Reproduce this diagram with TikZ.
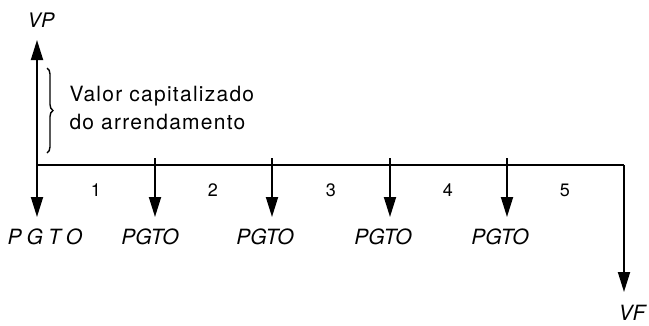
\documentclass[tikz,border=0pt]{standalone}
\usepackage{fontspec}
\setmainfont{TeX Gyre Heros}
\newfontfamily\widefont[LetterSpace=6]{TeX Gyre Heros}
\usetikzlibrary{arrows.meta,decorations.pathreplacing}
\tikzset{
  flow/.style={line width=1.8pt,-{Triangle[length=20pt,width=12pt]}},
  pgto/.style={font=\fontsize{21}{25}\selectfont\itshape},
  per/.style={font=\fontsize{18}{22}\selectfont},
}
\begin{document}
\begin{tikzpicture}[x=1pt,y=-1pt]
			\useasboundingbox (0,0) rectangle (649,325);
			\coordinate (a0) at (37,165);
			\coordinate (a1) at (155,158);
			\coordinate (a2) at (272,158);
			\coordinate (a3) at (390,158);
			\coordinate (a4) at (507,158);
			\coordinate (a5) at (624,165);
			\coordinate (up) at (37,40);
			\coordinate (e0) at (37,217);
			\coordinate (e1) at (155,217);
			\coordinate (e2) at (272,217);
			\coordinate (e3) at (390,217);
			\coordinate (e4) at (507,217);
			\coordinate (e5) at (624,292);
			\coordinate (b1) at (47,68);
			\coordinate (b2) at (47,153);
			\node [pgto, font=\fontsize{20}{24}\selectfont\itshape] (vp) at (41,20) {VP};
			\node [pgto] (vf) at (632,313) {VF};
			\node [anchor=base west, font=\fontsize{21}{28}\widefont] (v1) at (66,101) {Valor capitalizado};
			\node [anchor=base west, font=\fontsize{21}{28}\widefont] (v2) at (66,129) {do arrendamento};
			\node [per] (n1) at (96,190) {1};
			\node [per] (n2) at (213,190) {2};
			\node [per] (n3) at (331,190) {3};
			\node [per] (n4) at (448,190) {4};
			\node [per] (n5) at (565,190) {5};
			\node [pgto] (p0) at (45,237) {P\hspace{5pt}G\hspace{5pt}T\hspace{5pt}O};
			\node [pgto] (p1) at (150,237) {PGTO};
			\node [pgto] (p2) at (265,237) {PGTO};
			\node [pgto] (p3) at (383,237) {PGTO};
			\node [pgto] (p4) at (500,237) {PGTO};
			\draw [line width=1.8pt] (a0) -- (a5);
			\draw [flow] (a0) -- (up);
			\draw [flow] (a0) -- (e0);
			\draw [flow] (a1) -- (e1);
			\draw [flow] (a2) -- (e2);
			\draw [flow] (a3) -- (e3);
			\draw [flow] (a4) -- (e4);
			\draw [flow] (a5) -- (e5);
			\draw [line width=1.4pt, decorate, decoration={brace, amplitude=6pt}] (b1) -- (b2);
		\end{tikzpicture}
\end{document}
